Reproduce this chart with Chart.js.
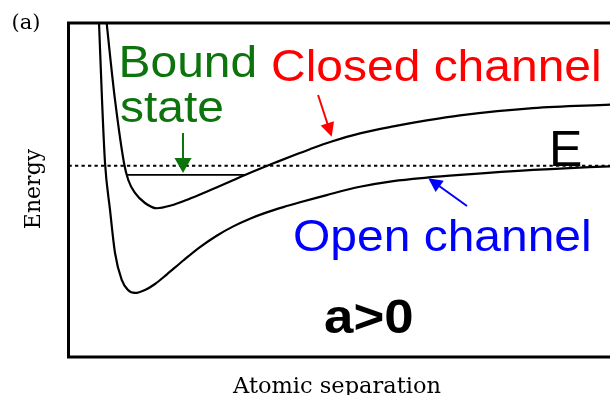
<!DOCTYPE html>
<html><head><meta charset="utf-8">
<script src="https://cdn.jsdelivr.net/npm/chart.js@4/dist/chart.umd.min.js"></script>
<style>html,body{margin:0;padding:0;overflow:hidden;background:#fff;width:610px;height:395px}canvas{display:block}</style>
</head><body>
<canvas id="c" width="640" height="395"></canvas>
<script>
// Atomic separation (arb. units) and energy relative to threshold E (arb. units)
const closedX = [0.668, 0.688, 0.757, 0.838, 1.000, 1.077, 1.198, 1.378, 1.589, 1.859, 2.099, 2.369, 2.676, 2.964, 3.180, 3.481, 3.757, 4.050, 4.351, 4.742, 5.252, 5.852, 6.454, 7.054, 8.369, 9.757, 10.0];
const closedY = [4.6, 4.272, 3.165, 1.967, 0.081, -0.428, -0.817, -1.117, -1.275, -1.186, -1.045, -0.865, -0.647, -0.437, -0.278, -0.069, 0.114, 0.305, 0.494, 0.722, 0.967, 1.177, 1.356, 1.506, 1.725, 1.829, 1.847];
const openX = [0.542, 0.550, 0.604, 0.658, 0.748, 0.838, 0.959, 1.072, 1.198, 1.378, 1.559, 1.769, 2.068, 2.369, 2.670, 2.969, 3.270, 3.571, 3.870, 4.171, 4.652, 5.252, 5.852, 6.454, 7.054, 8.369, 9.757, 10.0];
const openY = [4.6, 4.272, 1.967, 0.081, -1.326, -2.614, -3.422, -3.722, -3.811, -3.722, -3.542, -3.260, -2.838, -2.437, -2.096, -1.817, -1.587, -1.398, -1.240, -1.096, -0.880, -0.632, -0.461, -0.356, -0.275, -0.126, -0.018, -0.006];
const boundX = [1.049, 3.180];
const boundY = [-0.278, -0.278];
const energyX = [0, 10];
const energyY = [0, 0];
const xRange = [0, 10];
const yRange = [-5.728, 4.272];

// Annotation texts and arrows (anchored in data units)
const labelTexts = ['Bound', 'state', 'Closed channel', 'E', 'Open channel', 'a>0'];
const labelX = [0.901, 0.928, 3.649, 8.658, 4.045, 4.604];
const labelY = [2.641, 1.308, 2.536, -0.009, -2.569, -5.009];
const labelColors = ['#0d730d', '#0d730d', '#ff0000', '#000000', '#0000ff', '#000000'];
const arrowFrom = [[2.063, 0.979], [4.497, 2.117], [7.180, -1.207]];
const arrowTo = [[2.063, -0.219], [4.742, 0.868], [6.483, -0.377]];
const arrowColors = ['#0d730d', '#ff0000', '#0000ff'];

const pts = (xs, ys) => xs.map((v, i) => ({x: v, y: ys[i]}));

const annot = {
  id: 'annot',
  afterDatasetsDraw(chart) {
    const {ctx, chartArea: a, scales: {x, y}} = chart;
    ctx.save();
    // arrows
    arrowFrom.forEach((f, i) => {
      const x0 = x.getPixelForValue(f[0]), y0 = y.getPixelForValue(f[1]);
      const x1 = x.getPixelForValue(arrowTo[i][0]), y1 = y.getPixelForValue(arrowTo[i][1]);
      const ang = Math.atan2(y1 - y0, x1 - x0);
      const hl = i === 0 ? 15 : 14, hw = i === 0 ? 8.5 : 7;
      ctx.strokeStyle = arrowColors[i]; ctx.fillStyle = arrowColors[i];
      ctx.lineWidth = 2;
      ctx.beginPath();
      ctx.moveTo(x0, y0);
      ctx.lineTo(x1 - Math.cos(ang) * hl * 0.8, y1 - Math.sin(ang) * hl * 0.8);
      ctx.stroke();
      ctx.beginPath();
      ctx.moveTo(x1, y1);
      ctx.lineTo(x1 - Math.cos(ang) * hl - Math.sin(ang) * hw, y1 - Math.sin(ang) * hl + Math.cos(ang) * hw);
      ctx.lineTo(x1 - Math.cos(ang) * hl + Math.sin(ang) * hw, y1 - Math.sin(ang) * hl - Math.cos(ang) * hw);
      ctx.closePath();
      ctx.fill();
    });
    // frame
    ctx.strokeStyle = '#000'; ctx.lineWidth = 3;
    ctx.strokeRect(a.left, a.top, a.right - a.left, a.bottom - a.top);
    // labels
    ctx.textBaseline = 'alphabetic'; ctx.textAlign = 'left';
    labelTexts.forEach((t, i) => {
      const px = x.getPixelForValue(labelX[i]), py = y.getPixelForValue(labelY[i]);
      ctx.save();
      ctx.translate(px, py);
      if (t === 'E') {
        ctx.font = '50px "Liberation Sans", Arial, sans-serif';
      } else if (t === 'a>0') {
        ctx.font = 'bold 48px "Liberation Sans", Arial, sans-serif';
        ctx.scale(1.1, 1);
      } else {
        ctx.font = '44px "Liberation Sans", Arial, sans-serif';
        ctx.scale(1.09, 1);
      }
      ctx.fillStyle = labelColors[i];
      ctx.fillText(t, 0, 0);
      ctx.restore();
    });
    // panel tag and axis titles
    ctx.fillStyle = '#000';
    ctx.font = '21px "DejaVu Serif", serif';
    ctx.fillText('(a)', a.left - 57, a.top + 6);
    ctx.font = '22.5px "DejaVu Serif", serif';
    ctx.textAlign = 'center';
    ctx.fillText('Atomic separation', 337, a.bottom + 36);
    ctx.font = '22px "DejaVu Serif", serif';
    ctx.save();
    ctx.translate(a.left - 28.5, (a.top + a.bottom) / 2 - 1);
    ctx.rotate(-Math.PI / 2);
    ctx.fillText('Energy', 0, 0);
    ctx.restore();
    ctx.restore();
  }
};

new Chart(document.getElementById('c'), {
  type: 'scatter',
  data: {
    datasets: [
      {label: 'Closed channel', data: pts(closedX, closedY), showLine: true, borderColor: '#000', borderWidth: 2.2, pointRadius: 0, cubicInterpolationMode: 'monotone', fill: false},
      {label: 'Open channel', data: pts(openX, openY), showLine: true, borderColor: '#000', borderWidth: 2.2, pointRadius: 0, cubicInterpolationMode: 'monotone', fill: false},
      {label: 'Bound state', data: pts(boundX, boundY), showLine: true, borderColor: '#000', borderWidth: 1.8, pointRadius: 0, fill: false},
      {label: 'E', data: pts(energyX, energyY), showLine: true, borderColor: '#000', borderWidth: 2, borderDash: [3.3, 3.2], pointRadius: 0, fill: false}
    ]
  },
  options: {
    responsive: false,
    animation: false,
    devicePixelRatio: 1,
    layout: {padding: {left: 68.5, right: 16.5, top: 23, bottom: 38}},
    scales: {
      x: {type: 'linear', min: xRange[0], max: xRange[1], display: false},
      y: {type: 'linear', min: yRange[0], max: yRange[1], display: false}
    },
    plugins: {legend: {display: false}, tooltip: {enabled: false}}
  },
  plugins: [annot]
});
</script>
</body></html>
